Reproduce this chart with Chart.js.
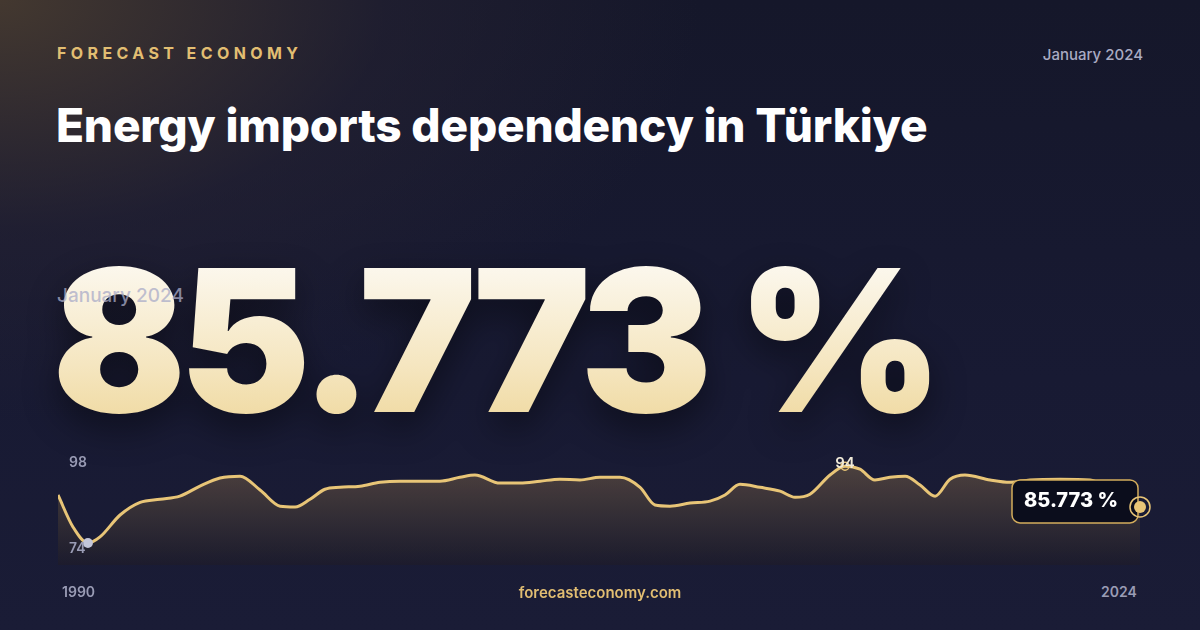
<!DOCTYPE html>
<html><head><meta charset="utf-8">
<script src="https://cdn.jsdelivr.net/npm/chart.js@4/dist/chart.umd.min.js"></script>
<style>
html,body{margin:0;padding:0;}
body{width:1200px;height:630px;overflow:hidden;position:relative;font-family:Inter,sans-serif;
background:radial-gradient(ellipse 700px 420px at 0px 0px, rgba(70,58,48,0.95), rgba(40,36,52,0.5) 55%, rgba(0,0,0,0) 100%), linear-gradient(180deg,#15172a 0%,#181a33 60%,#1a1c36 100%);}
.abs{position:absolute;white-space:nowrap;}
#brand{left:57px;top:43px;font-size:16px;font-weight:700;letter-spacing:4.4px;color:#e2be72;}
#date{right:57px;top:45px;font-size:15px;color:#a9abc2;font-weight:500;}
#title{left:56px;top:97px;font-size:46px;font-weight:800;color:#fff;letter-spacing:-0.2px;}
#big{left:52px;top:222px;font-size:198px;font-weight:900;letter-spacing:-7.5px;line-height:1.2;
background:linear-gradient(180deg,#fdfbf6 10%,#f5e6c0 60%,#ecd28f 100%);-webkit-background-clip:text;background-clip:text;color:transparent;
filter:drop-shadow(0 14px 18px rgba(0,0,0,0.45));}
#ghost{left:57px;top:284px;font-size:19px;color:rgba(170,172,200,0.75);font-weight:500;}
.lbl{font-size:14px;color:#9a9cb5;font-weight:600;}
#foot{left:0;width:1200px;text-align:center;top:583px;font-size:15px;font-weight:600;color:#e2be72;}
#wrap{position:absolute;left:58px;top:440px;width:1100px;height:125px;}
</style></head><body>
<div class="abs" id="brand">FORECAST ECONOMY</div>
<div class="abs" id="date">January 2024</div>
<div class="abs" id="title">Energy imports dependency in Türkiye</div>
<div class="abs" id="big">85.773 %</div>
<div class="abs" id="ghost">January 2024</div>
<div id="wrap"><canvas id="c" width="1100" height="125" style="width:1100px;height:125px"></canvas></div>
<div class="abs lbl" style="left:69px;top:453px">98</div>
<div class="abs lbl" style="left:69px;top:539px">74</div>
<div class="abs lbl" style="left:62px;top:583px">1990</div>
<div class="abs lbl" style="left:1101px;top:583px">2024</div>
<div class="abs" id="foot">forecasteconomy.com</div>
<script>
const years=[1990.0,1990.47,1990.94,1991.32,1991.95,1992.58,1993.21,1993.83,1994.46,1995.09,1995.72,1996.35,1996.98,1997.45,1997.92,1998.39,1998.86,1999.49,2000.12,2000.75,2001.38,2002.0,2002.63,2003.1,2003.89,2004.52,2005.15,2005.77,2006.4,2007.03,2007.66,2008.29,2008.76,2009.23,2009.86,2010.49,2010.96,2011.43,2012.06,2012.69,2013.16,2013.63,2014.26,2014.73,2015.2,2015.67,2016.14,2016.62,2017.09,2017.56,2018.03,2018.5,2019.29,2019.91,2020.54,2021.49,2022.43,2023.06,2024.0];
const values=[86.5,78.2,74.0,75.6,81.3,84.6,85.4,86.2,88.8,90.9,91.4,87.8,83.6,83.4,85.4,88.0,88.5,88.8,89.8,90.1,90.1,90.1,91.1,91.7,89.6,89.6,90.1,90.6,90.4,91.1,91.1,88.5,83.9,83.6,84.4,84.9,86.5,89.3,88.5,87.5,85.9,86.7,91.7,94.0,93.2,90.4,91.1,91.4,89.1,86.2,90.6,91.7,90.4,89.8,90.4,90.6,90.4,87.8,83.4];
const lastLabel="85.773 %";
const peakLabel="94";
const minIdx=values.indexOf(Math.min(...values)), maxIdx=values.indexOf(Math.max(...values)), lastIdx=values.length-1;
const marks={id:'marks',afterDatasetsDraw(ch){
  const c=ch.ctx, m=ch.getDatasetMeta(0).data;
  c.save();
  let p=m[minIdx]; c.fillStyle='#c3c6da'; c.beginPath(); c.arc(p.x,p.y,5,0,7); c.fill();
  p=m[maxIdx]; c.strokeStyle='#e8c577'; c.lineWidth=1.5; c.beginPath(); c.arc(p.x,p.y,4,0,7); c.stroke();
  c.fillStyle='#f0ead8'; c.font='600 15px Inter'; c.textAlign='center'; c.fillText(peakLabel,p.x,p.y+2);
  p=m[lastIdx];
  const bx=p.x-128,by=p.y-27,bw=126,bh=43;
  c.fillStyle='#0b0d1c'; c.strokeStyle='#d4ad5c'; c.lineWidth=1.5;
  c.beginPath(); c.roundRect(bx,by,bw,bh,8); c.fill(); c.stroke();
  c.fillStyle='#fff'; c.font='800 20px Inter'; c.textAlign='center'; c.textBaseline='middle';
  c.fillText(lastLabel,bx+bw/2-4,by+bh/2);
  c.strokeStyle='#e8c577'; c.lineWidth=1.5; c.beginPath(); c.arc(p.x,p.y,10,0,7); c.stroke();
  c.fillStyle='#e8c577'; c.beginPath(); c.arc(p.x,p.y,6,0,7); c.fill();
  c.restore();
}};
const ctx=document.getElementById('c').getContext('2d');
const g=ctx.createLinearGradient(0,20,0,125);
g.addColorStop(0,'rgba(110,90,70,0.65)');g.addColorStop(1,'rgba(30,28,40,0.6)');
new Chart(ctx,{type:'line',data:{datasets:[{data:years.map((y,i)=>({x:y,y:values[i]})),borderColor:'#e8c577',borderWidth:3,fill:'start',backgroundColor:g,pointRadius:0,tension:0.4,cubicInterpolationMode:'monotone',clip:false}]},
options:{responsive:false,animation:false,maintainAspectRatio:false,layout:{padding:{right:18}},
plugins:{legend:{display:false},tooltip:{enabled:false}},
scales:{x:{type:'linear',min:1990,max:2024,display:false},y:{min:68.3,max:100.8,display:false}}},plugins:[marks]});
</script></body></html>
